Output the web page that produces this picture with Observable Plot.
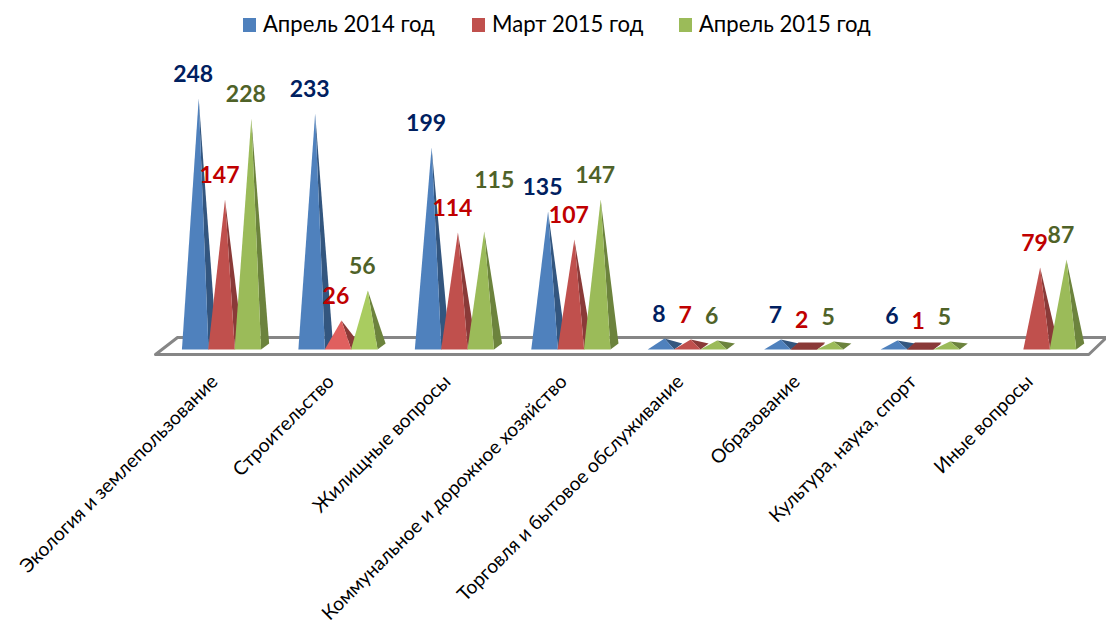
<!DOCTYPE html>
<html><head><meta charset="utf-8">
<script src="https://cdn.jsdelivr.net/npm/d3@7"></script>
<script src="https://cdn.jsdelivr.net/npm/@observablehq/plot@0.6"></script>
<style>
body{margin:0;background:#fff;font-family:Lato,"Open Sans",sans-serif;}
#legend{position:relative;height:48px;font-size:22.1px;color:#000;}
#legend span{position:absolute;top:9px;line-height:30px;white-space:nowrap;}
#legend i{position:absolute;top:18px;width:13px;height:14px;}
svg{display:block;}
</style></head><body>
<div id="legend"></div>
<div id="chart"></div>
<script>
const categories = ["Экология и землепользование","Строительство","Жилищные вопросы","Коммунальное и дорожное хозяйство","Торговля и бытовое обслуживание","Образование","Культура, наука, спорт","Иные вопросы"];
const seriesNames = ["Апрель 2014 год","Март 2015 год","Апрель 2015 год"];
const april2014 = [248,233,199,135,8,7,6,null];
const march2015 = [147,26,114,107,7,2,1,79];
const april2015 = [228,56,115,147,6,5,5,87];
const frontColors = ["#4f81bd","#c0504d","#9bbb59"];
const lightColors = ["#4f81bd","#e0605f","#a9cc60"];
const sideColors = ["#33567f","#8a3a38","#6c833d"];
const labelColors = ["#002060","#c00000","#4f6228"];
const seriesOffset = [-0.226,0,0.226];

const W=1106, H=576;
const halfW=0.114, apexDx=0.03, depthDx=0.069, yFront=-3, yBack=3;

const legendX=[[243,263],[472,492],[679,699]];
const lg=document.getElementById("legend");
seriesNames.forEach((n,k)=>{
  const i=document.createElement("i"); i.style.left=legendX[k][0]+"px"; i.style.background=frontColors[k]; lg.appendChild(i);
  const s=document.createElement("span"); s.style.left=legendX[k][1]+"px"; s.textContent=n; lg.appendChild(s);
});

const allSeries=[april2014,march2015,april2015];
const marks=[];
const xDom=[-0.567,7.6], yDom=[-9,260];
const floor=[{x:xDom[0],y:-8},{x:-0.378,y:9},{x:xDom[1],y:9},{x:7.448,y:-8}];
marks.push(Plot.line(floor,{x:"x",y:"y",curve:"linear-closed",stroke:"#868686",strokeWidth:3,fill:"#fff"}));

const labelSets=[];
allSeries.forEach((vals,k)=>{
  const front=[], side=[], plate=[], labels=[];
  vals.forEach((v,i)=>{
    if(v==null) return;
    const c=i+seriesOffset[k];
    const f=(v>=20&&v<=60)?lightColors[k]:(v<=2?sideColors[k]:frontColors[k]);
    if(v<=2) plate.push({z:i,x:c-halfW,y:yFront},{z:i,x:c-halfW+depthDx,y:yBack+1},{z:i,x:c+halfW+depthDx,y:yBack+1},{z:i,x:c+halfW,y:yFront});
    front.push({z:i,f,x:c-halfW,y:yFront},{z:i,f,x:c+apexDx,y:v},{z:i,f,x:c+halfW,y:yFront});
    side.push({z:i,x:c+halfW,y:yFront},{z:i,x:c+apexDx,y:v},{z:i,x:c+halfW+depthDx,y:yBack});
    labels.push({x:c+apexDx,y:v,t:String(v),special:(k===2&&i===2)});
  });
  marks.push(Plot.line(plate,{x:"x",y:"y",z:"z",curve:"linear-closed",fill:sideColors[k],stroke:"none"}));
  marks.push(Plot.line(side,{x:"x",y:"y",z:"z",curve:"linear-closed",fill:sideColors[k],stroke:"none"}));
  marks.push(Plot.line(front,{x:"x",y:"y",z:"z",curve:"linear-closed",fill:"f",stroke:"none"}));
  labelSets.push(labels);
});
labelSets.forEach((labels,k)=>{
  const text={x:"x",y:"y",text:"t",fill:labelColors[k],fontSize:23,fontWeight:700};
  marks.push(Plot.text(labels.filter(d=>!d.special),{...text,dx:-5.5,dy:-24}));
  marks.push(Plot.text(labels.filter(d=>d.special),{...text,dx:10,dy:-51}));
});
marks.push(Plot.axisX({ticks:d3.range(categories.length),tickFormat:i=>categories[i],tickRotate:-45,tickSize:0,tickPadding:23,dx:-7,fontSize:19.2,textAnchor:"end",stroke:"none",label:null,fill:"#000"}));

const svg=Plot.plot({
  width:W,height:H,marginLeft:155,marginRight:0,marginTop:38,marginBottom:269,
  style:{fontFamily:"Lato, 'Open Sans', sans-serif",background:"#fff",overflow:"visible"},
  x:{domain:xDom,axis:null},
  y:{domain:yDom,axis:null},
  color:{type:"identity"},
  marks
});
document.getElementById("chart").appendChild(svg);
</script>
</body></html>
